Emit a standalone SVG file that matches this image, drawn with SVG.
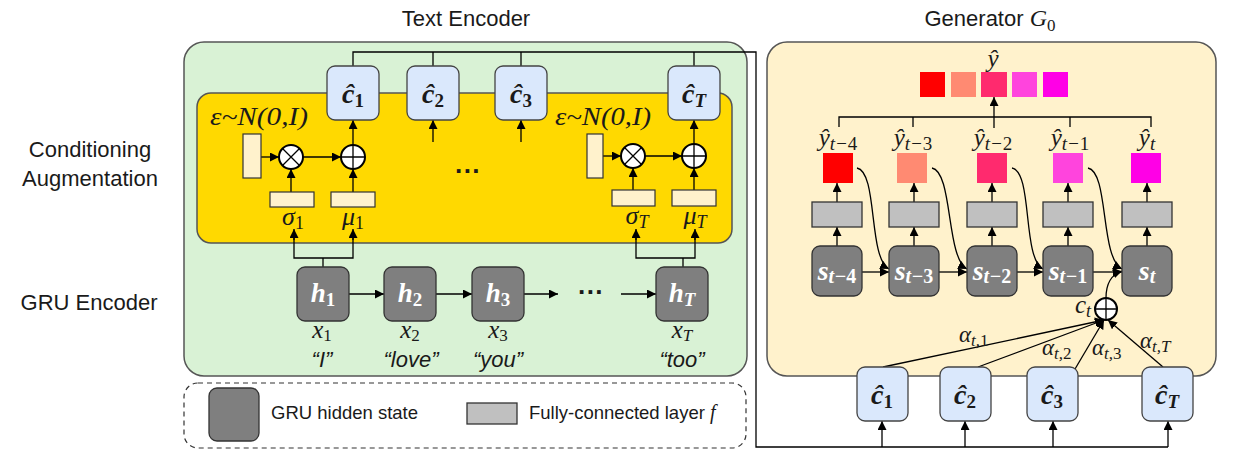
<svg xmlns="http://www.w3.org/2000/svg" width="1238" height="457" viewBox="0 0 1238 457">
<defs>
<marker id="ah" viewBox="0 0 10 10" refX="10" refY="5" markerWidth="9" markerHeight="9" markerUnits="userSpaceOnUse" orient="auto"><path d="M0,0 L10,5 L0,10 z" fill="#000"/></marker>
<style>
.sans{font-family:"Liberation Sans",Arial,sans-serif;fill:#1a1a1a}
.s22{font-size:22px}
.s18{font-size:18.5px}
.m{font-family:"Liberation Serif","DejaVu Serif",serif;font-style:italic;fill:#1a1a1a}
.bm{font-family:"Liberation Serif","DejaVu Serif",serif;font-style:italic;font-weight:bold}
.ln{stroke:#000;stroke-width:1.3;fill:none}
.ar{stroke:#000;stroke-width:1.3;fill:none;marker-end:url(#ah)}
.ch{fill:#DAE8FC;stroke:#444;stroke-width:1.3}
.gr{fill:#7F7F7F;stroke:#333;stroke-width:1.3}
.fc{fill:#C0C0C0;stroke:#333;stroke-width:1.3}
.ly{fill:#FFF2CC;stroke:#333;stroke-width:1.2}
.op{fill:#fff;stroke:#000;stroke-width:2}
.n{font-style:normal}
.dots{font-family:"Liberation Sans",Arial,sans-serif;font-size:26px;font-weight:bold;fill:#1a1a1a}
</style>
</defs>

<!-- titles and side labels -->
<text class="sans s22" x="466" y="26" text-anchor="middle">Text Encoder</text>
<text class="sans s22" x="990" y="26" text-anchor="middle">Generator <tspan class="m" font-size="24">G</tspan><tspan class="m n" font-size="17" dy="5">0</tspan></text>
<text class="sans s22" x="90" y="157" text-anchor="middle">Conditioning</text>
<text class="sans s22" x="90" y="186" text-anchor="middle">Augmentation</text>
<text class="sans s22" x="89" y="310" text-anchor="middle">GRU Encoder</text>

<!-- containers -->
<g id="text-encoder"><rect x="184" y="42" width="563" height="334" rx="20" fill="#D9F2D5" stroke="#555" stroke-width="1.5"/></g>
<g id="generator"><rect x="767" y="42" width="449" height="334" rx="20" fill="#FFF2CC" stroke="#555" stroke-width="1.5"/></g>
<g id="ca-block"><rect x="197" y="93" width="535" height="150" rx="14" fill="#FFD900" stroke="#555" stroke-width="1.5"/></g>

<!-- connectors -->
<g id="connectors">
<polyline class="ln" points="353,66 353,52 756,52 756,447 1168,447"/>
<line class="ln" x1="433" y1="52" x2="433" y2="66"/>
<line class="ln" x1="521" y1="52" x2="521" y2="66"/>
<line class="ln" x1="694" y1="52" x2="694" y2="66"/>
<!-- CA 1 -->
<line class="ar" x1="261" y1="157" x2="279" y2="157"/>
<line class="ar" x1="303" y1="157" x2="341" y2="157"/>
<line class="ar" x1="291" y1="192" x2="291" y2="169"/>
<line class="ar" x1="353" y1="192" x2="353" y2="169"/>
<line class="ar" x1="353" y1="145" x2="353" y2="120"/>
<line class="ar" x1="433" y1="142" x2="433" y2="120"/>
<line class="ar" x1="521" y1="142" x2="521" y2="120"/>
<polyline class="ln" points="294,232 294,258 353,258 353,232"/>
<line class="ar" x1="294" y1="240" x2="294" y2="229"/>
<line class="ar" x1="353" y1="240" x2="353" y2="229"/>
<line class="ln" x1="323" y1="258" x2="323" y2="267"/>
<!-- CA T -->
<line class="ar" x1="603" y1="156" x2="621" y2="156"/>
<line class="ar" x1="645" y1="156" x2="682" y2="156"/>
<line class="ar" x1="633" y1="190" x2="633" y2="168"/>
<line class="ar" x1="694" y1="190" x2="694" y2="168"/>
<line class="ar" x1="694" y1="144" x2="694" y2="120"/>
<polyline class="ln" points="636,232 636,258 695,258 695,232"/>
<line class="ar" x1="636" y1="240" x2="636" y2="229"/>
<line class="ar" x1="695" y1="240" x2="695" y2="229"/>
<line class="ln" x1="683" y1="258" x2="683" y2="267"/>
<!-- GRU chain -->
<line class="ar" x1="349" y1="294" x2="384" y2="294"/>
<line class="ar" x1="436" y1="294" x2="472" y2="294"/>
<line class="ar" x1="524" y1="294" x2="558" y2="294"/>
<line class="ar" x1="621" y1="294" x2="656" y2="294"/>
<!-- generator -->
<polyline class="ln" points="839,127 839,117 1151,117 1151,127"/>
<line class="ln" x1="913" y1="117" x2="913" y2="127"/>
<line class="ln" x1="1070" y1="117" x2="1070" y2="127"/>
<line class="ar" x1="994" y1="128" x2="994" y2="97"/>
<line class="ar" x1="837" y1="202" x2="837" y2="183"/>
<line class="ar" x1="914" y1="202" x2="914" y2="183"/>
<line class="ar" x1="992" y1="202" x2="992" y2="183"/>
<line class="ar" x1="1068" y1="202" x2="1068" y2="183"/>
<line class="ar" x1="1147" y1="202" x2="1147" y2="183"/>
<line class="ar" x1="837" y1="246" x2="837" y2="227"/>
<line class="ar" x1="914" y1="246" x2="914" y2="227"/>
<line class="ar" x1="992" y1="246" x2="992" y2="227"/>
<line class="ar" x1="1068" y1="246" x2="1068" y2="227"/>
<line class="ar" x1="1147" y1="246" x2="1147" y2="227"/>
<line class="ar" x1="862" y1="272" x2="889" y2="272"/>
<line class="ar" x1="939" y1="272" x2="967" y2="272"/>
<line class="ar" x1="1017" y1="272" x2="1043" y2="272"/>
<line class="ar" x1="1093" y1="272" x2="1122" y2="272"/>
<path class="ar" d="M857,168 C878,172 868,258 889,269"/>
<path class="ar" d="M932,168 C953,172 946,258 967,269"/>
<path class="ar" d="M1012,168 C1033,172 1022,258 1043,269"/>
<path class="ar" d="M1088,168 C1109,172 1100,258 1122,269"/>
<path class="ar" d="M1106,298 C1106,285 1110,275 1122,271"/>
<line class="ar" x1="883" y1="367" x2="1104" y2="320"/>
<line class="ar" x1="978" y1="367" x2="1104" y2="320"/>
<line class="ar" x1="1075" y1="369" x2="1104" y2="320"/>
<line class="ar" x1="1163" y1="367" x2="1108" y2="320"/>
<line class="ar" x1="882" y1="447" x2="882" y2="421"/>
<line class="ar" x1="965" y1="447" x2="965" y2="421"/>
<line class="ar" x1="1053" y1="447" x2="1053" y2="421"/>
<line class="ar" x1="1168" y1="447" x2="1168" y2="421"/>
</g>

<!-- text encoder c-hat nodes -->
<g id="c1"><rect class="ch" x="327" y="66" width="52" height="54" rx="8"/><text class="bm" x="353" y="103" font-size="28" text-anchor="middle" fill="#1a1a1a">ĉ<tspan class="n" font-size="19" dy="4">1</tspan></text></g>
<g id="c2"><rect class="ch" x="407" y="66" width="52" height="54" rx="8"/><text class="bm" x="433" y="103" font-size="28" text-anchor="middle" fill="#1a1a1a">ĉ<tspan class="n" font-size="19" dy="4">2</tspan></text></g>
<g id="c3"><rect class="ch" x="495" y="66" width="52" height="54" rx="8"/><text class="bm" x="521" y="103" font-size="28" text-anchor="middle" fill="#1a1a1a">ĉ<tspan class="n" font-size="19" dy="4">3</tspan></text></g>
<g id="cT"><rect class="ch" x="668" y="66" width="52" height="54" rx="8"/><text class="bm" x="694" y="103" font-size="28" text-anchor="middle" fill="#1a1a1a">ĉ<tspan font-size="19" dy="4">T</tspan></text></g>

<!-- CA block 1 -->
<g id="ca1">
<text class="m" x="210" y="125" font-size="25" textLength="98" lengthAdjust="spacingAndGlyphs">ε~N(0,I)</text>
<rect class="ly" x="243" y="134" width="18" height="44"/>
<circle class="op" cx="291" cy="157" r="12"/><path class="ln" stroke-width="1.8" d="M282.5,148.5 L299.5,165.5 M299.5,148.5 L282.5,165.5"/>
<circle class="op" cx="353" cy="157" r="12"/><path class="ln" stroke-width="1.8" d="M341,157 H365 M353,145 V169"/>
<rect class="ly" x="270" y="192" width="44" height="15"/>
<rect class="ly" x="331" y="192" width="44" height="15"/>
<text class="m" x="293" y="225" font-size="26" text-anchor="middle">σ<tspan class="n" font-size="18" dy="4">1</tspan></text>
<text class="m" x="353" y="225" font-size="26" text-anchor="middle">μ<tspan class="n" font-size="18" dy="4">1</tspan></text>
</g>
<text class="dots" x="468" y="180" text-anchor="middle">···</text>

<!-- CA block T -->
<g id="caT">
<text class="m" x="555" y="125" font-size="25" textLength="96" lengthAdjust="spacingAndGlyphs">ε~N(0,I)</text>
<rect class="ly" x="587" y="134" width="16" height="44"/>
<circle class="op" cx="633" cy="156" r="12"/><path class="ln" stroke-width="1.8" d="M624.5,147.5 L641.5,164.5 M641.5,147.5 L624.5,164.5"/>
<circle class="op" cx="694" cy="156" r="12"/><path class="ln" stroke-width="1.8" d="M682,156 H706 M694,144 V168"/>
<rect class="ly" x="612" y="190" width="43" height="16"/>
<rect class="ly" x="672" y="190" width="44" height="16"/>
<text class="m" x="637" y="224" font-size="26" text-anchor="middle">σ<tspan font-size="18" dy="4">T</tspan></text>
<text class="m" x="695" y="224" font-size="26" text-anchor="middle">μ<tspan font-size="18" dy="4">T</tspan></text>
</g>

<!-- GRU hidden states -->
<g id="h1"><rect class="gr" x="297" y="267" width="52" height="54" rx="8"/><text class="bm" x="323" y="302" font-size="27" text-anchor="middle" fill="#fff">h<tspan class="n" font-size="19" dy="4">1</tspan></text></g>
<g id="h2"><rect class="gr" x="384" y="267" width="52" height="54" rx="8"/><text class="bm" x="410" y="302" font-size="27" text-anchor="middle" fill="#fff">h<tspan class="n" font-size="19" dy="4">2</tspan></text></g>
<g id="h3"><rect class="gr" x="472" y="267" width="52" height="54" rx="8"/><text class="bm" x="498" y="302" font-size="27" text-anchor="middle" fill="#fff">h<tspan class="n" font-size="19" dy="4">3</tspan></text></g>
<g id="hT"><rect class="gr" x="656" y="267" width="52" height="54" rx="8"/><text class="bm" x="682" y="302" font-size="27" text-anchor="middle" fill="#fff">h<tspan font-size="19" dy="4">T</tspan></text></g>
<text class="dots" x="591" y="301" text-anchor="middle">···</text>

<!-- inputs -->
<g id="inputs">
<text class="m" x="322" y="338" font-size="25" text-anchor="middle">x<tspan class="n" font-size="17" dy="3">1</tspan></text>
<text class="m" x="410" y="338" font-size="25" text-anchor="middle">x<tspan class="n" font-size="17" dy="3">2</tspan></text>
<text class="m" x="498" y="338" font-size="25" text-anchor="middle">x<tspan class="n" font-size="17" dy="3">3</tspan></text>
<text class="m" x="682" y="338" font-size="25" text-anchor="middle">x<tspan font-size="17" dy="3">T</tspan></text>
<text class="sans s22" x="322" y="367" font-style="italic" text-anchor="middle">“I”</text>
<text class="sans s22" x="411" y="367" font-style="italic" text-anchor="middle">“love”</text>
<text class="sans s22" x="498" y="367" font-style="italic" text-anchor="middle">“you”</text>
<text class="sans s22" x="682" y="367" font-style="italic" text-anchor="middle">“too”</text>
</g>

<!-- legend -->
<g id="legend">
<rect x="184" y="383" width="562" height="65" rx="14" fill="none" stroke="#333" stroke-width="1.2" stroke-dasharray="5,4"/>
<rect class="gr" x="209" y="388" width="50" height="53" rx="8"/>
<text class="sans s18" x="271" y="419">GRU hidden state</text>
<rect class="fc" x="467" y="403" width="50" height="21"/>
<text class="sans s18" x="529" y="419">Fully-connected layer <tspan class="m" font-size="20">f</tspan></text>
</g>

<!-- generator contents -->
<g id="y-hat">
<text class="m" x="993" y="67" font-size="25" text-anchor="middle">ŷ</text>
<rect x="920" y="72" width="25" height="25" fill="#FF0000"/>
<rect x="951" y="72" width="25" height="25" fill="#FF8A72"/>
<rect x="981" y="72" width="26" height="25" fill="#FF2A6E"/>
<rect x="1012" y="72" width="25" height="25" fill="#FF44DD"/>
<rect x="1043" y="72" width="25" height="25" fill="#FF00E6"/>
</g>
<g id="outputs">
<text class="m" x="838" y="146" font-size="25" text-anchor="middle">ŷ<tspan font-size="19" dy="4">t−<tspan class="n">4</tspan></tspan></text>
<text class="m" x="913" y="146" font-size="25" text-anchor="middle">ŷ<tspan font-size="19" dy="4">t−<tspan class="n">3</tspan></tspan></text>
<text class="m" x="993" y="146" font-size="25" text-anchor="middle">ŷ<tspan font-size="19" dy="4">t−<tspan class="n">2</tspan></tspan></text>
<text class="m" x="1070" y="146" font-size="25" text-anchor="middle">ŷ<tspan font-size="19" dy="4">t−<tspan class="n">1</tspan></tspan></text>
<text class="m" x="1147" y="146" font-size="25" text-anchor="middle">ŷ<tspan font-size="19" dy="4">t</tspan></text>
<rect x="823" y="153" width="30" height="30" fill="#FF0000"/>
<rect x="897" y="153" width="30" height="30" fill="#FF8A72"/>
<rect x="977" y="153" width="30" height="30" fill="#FF2A6E"/>
<rect x="1053" y="153" width="30" height="30" fill="#FF44DD"/>
<rect x="1131" y="153" width="30" height="30" fill="#FF00E6"/>
</g>
<g id="fc-layers">
<rect class="fc" x="812" y="202" width="50" height="25"/>
<rect class="fc" x="889" y="202" width="50" height="25"/>
<rect class="fc" x="967" y="202" width="50" height="25"/>
<rect class="fc" x="1043" y="202" width="50" height="25"/>
<rect class="fc" x="1122" y="202" width="50" height="25"/>
</g>
<g id="s-states">
<rect class="gr" x="812" y="246" width="50" height="50" rx="8"/><text class="bm" x="837" y="280" font-size="28" text-anchor="middle" fill="#fff">s<tspan font-size="20" dy="3">t−<tspan class="n">4</tspan></tspan></text>
<rect class="gr" x="889" y="246" width="50" height="50" rx="8"/><text class="bm" x="914" y="280" font-size="28" text-anchor="middle" fill="#fff">s<tspan font-size="20" dy="3">t−<tspan class="n">3</tspan></tspan></text>
<rect class="gr" x="967" y="246" width="50" height="50" rx="8"/><text class="bm" x="992" y="280" font-size="28" text-anchor="middle" fill="#fff">s<tspan font-size="20" dy="3">t−<tspan class="n">2</tspan></tspan></text>
<rect class="gr" x="1043" y="246" width="50" height="50" rx="8"/><text class="bm" x="1068" y="280" font-size="28" text-anchor="middle" fill="#fff">s<tspan font-size="20" dy="3">t−<tspan class="n">1</tspan></tspan></text>
<rect class="gr" x="1122" y="246" width="50" height="50" rx="8"/><text class="bm" x="1147" y="280" font-size="28" text-anchor="middle" fill="#fff">s<tspan font-size="20" dy="3">t</tspan></text>
</g>
<g id="ct">
<circle class="op" cx="1106" cy="309" r="11"/><path class="ln" stroke-width="1.8" d="M1095,309 H1117 M1106,298 V320"/>
<text class="m" x="1075" y="313" font-size="25">c<tspan font-size="18" dy="4">t</tspan></text>
<text class="m" x="959" y="342" font-size="23">α<tspan font-size="17" dy="4">t,<tspan class="n">1</tspan></tspan></text>
<text class="m" x="1042" y="355" font-size="23">α<tspan font-size="17" dy="4">t,<tspan class="n">2</tspan></tspan></text>
<text class="m" x="1092" y="355" font-size="23">α<tspan font-size="17" dy="4">t,<tspan class="n">3</tspan></tspan></text>
<text class="m" x="1140" y="348" font-size="23">α<tspan font-size="17" dy="4">t,T</tspan></text>
</g>
<g id="gen-c">
<rect class="ch" x="857" y="367" width="51" height="54" rx="8"/><text class="bm" x="882" y="404" font-size="28" text-anchor="middle" fill="#1a1a1a">ĉ<tspan class="n" font-size="19" dy="4">1</tspan></text>
<rect class="ch" x="940" y="367" width="51" height="54" rx="8"/><text class="bm" x="965" y="404" font-size="28" text-anchor="middle" fill="#1a1a1a">ĉ<tspan class="n" font-size="19" dy="4">2</tspan></text>
<rect class="ch" x="1027" y="367" width="51" height="54" rx="8"/><text class="bm" x="1052" y="404" font-size="28" text-anchor="middle" fill="#1a1a1a">ĉ<tspan class="n" font-size="19" dy="4">3</tspan></text>
<rect class="ch" x="1142" y="367" width="51" height="54" rx="8"/><text class="bm" x="1167" y="404" font-size="28" text-anchor="middle" fill="#1a1a1a">ĉ<tspan font-size="19" dy="4">T</tspan></text>
</g>
</svg>
